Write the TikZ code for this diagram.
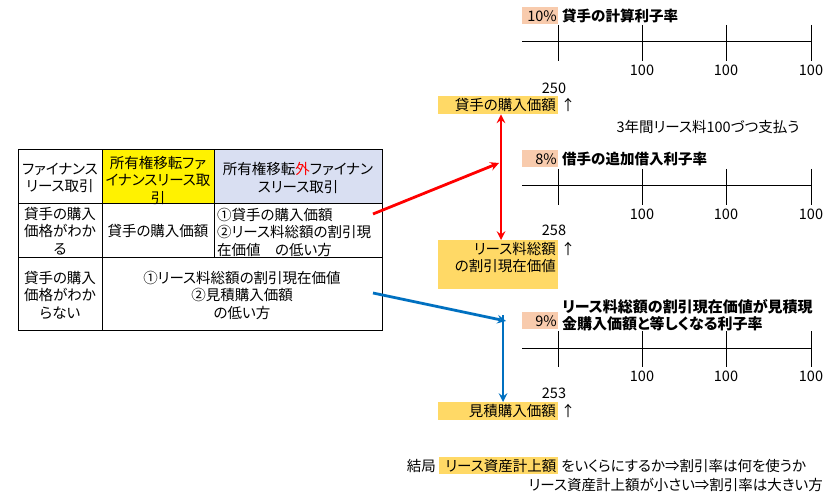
\documentclass[tikz,border=0pt]{standalone}
\usepackage{fontspec}
\setmainfont[RawFeature=+palt]{Noto Sans CJK JP}
\usetikzlibrary{positioning}
\definecolor{gold}{HTML}{FFD966}
\definecolor{peach}{HTML}{F8CBAD}
\definecolor{lavender}{HTML}{D9DFF2}
\definecolor{linkblue}{HTML}{0070C0}
\tikzset{
  cell/.style={align=center, inner sep=0pt},
  grid/.style={line width=1pt},
  timeline/.style={line width=1pt},
  ratebox/.style={fill=peach, anchor=north east, text width=34pt, align=right,
    minimum height=17pt, inner sep=1pt},
  buybox/.style={fill=gold, anchor=north east, text width=116pt, align=right,
    minimum height=18pt, inner sep=2pt},
  title/.style={font=\fontsize{14.5}{17}\selectfont\bfseries, inner sep=0pt},
  redarrow/.style={red, line width=2.8pt, -stealth},
  bluearrow/.style={linkblue, line width=2.8pt, -stealth}
}
\begin{document}
\begin{tikzpicture}[x=1pt,y=-1pt,font=\fontsize{14.5}{17.5}\selectfont]
  \useasboundingbox (0,0) rectangle (834,502);
  % table
  \fill[yellow] (102,150) rectangle (214,204);
  \fill[lavender] (214,150) rectangle (382,204);
  \draw[grid] (18,150) rectangle (382,330);
  \draw[grid] (18,204) -- (382,204) (18,258) -- (382,258);
  \draw[grid] (102,150) -- (102,330) (214,150) -- (214,258);
  \node[cell] (head1) at (60,178) {ファイナンス\\リース取引};
  \node[cell] (head2) at (158,180) {所有権移転ファ\\イナンスリース取\\引};
  \node[cell] (head3) at (298,178) {所有権移転\textcolor{red}{外}ファイナン\\スリース取引};
  \node[cell] (known) at (60,231) {貸手の購入\\価格がわか\\る};
  \node[cell] (knownfin) at (158,231) {貸手の購入価額};
  \node[cell,align=left,anchor=west] (knownop) at (217,232) {①貸手の購入価額\\②リース料総額の割引現\\在価値　の低い方};
  \node[cell] (unknown) at (60,295) {貸手の購入\\価格がわか\\らない};
  \node[cell] (unknownall) at (242,295) {①リース料総額の割引現在価値\\②見積購入価額\\の低い方};
  % three time lines
  \foreach \ly in {42,186,348}{
    \draw[timeline] (522,\ly) -- (811,\ly);
    \foreach \tx in {558,642,726,811}
      \draw[timeline] (\tx,\ly-17) -- (\tx,\ly+19);
    \foreach \tx in {642,726,811}
      \node (pay\ly-\tx) at (\tx,\ly+28) {100};
  }
  % lender rate
  \node[ratebox] (rate1) at (558,7) {10\%};
  \node[title,anchor=west] (title1) at (562,16) {貸手の計算利子率};
  \node (amt1) at (554,88) {250};
  \node[buybox] (buy1) at (558,96) {貸手の購入価額};
  \node (up1) at (568,105) {↑};
  \node (note) at (708,127) {3年間リース料100づつ支払う};
  % lessee rate
  \node[ratebox] (rate2) at (558,150) {8\%};
  \node[title,anchor=west] (title2) at (562,159) {借手の追加借入利子率};
  \node (amt2) at (554,230) {258};
  \node[buybox,minimum height=49pt] (pv) at (558,240) {};
  \node[anchor=north east,align=right,inner sep=2pt] (pvtext) at (pv.north east) {リース料総額\\の割引現在価値};
  \node (up2) at (568,249) {↑};
  % estimated rate
  \node[ratebox] (rate3) at (558,312) {9\%};
  \node[title,anchor=west,align=left,font=\fontsize{15}{17}\selectfont\bfseries] (title3) at (562,315) {リース料総額の割引現在価値が見積現\\金購入価額と等しくなる利子率};
  \node (amt3) at (554,393) {253};
  \node[buybox] (est) at (558,402) {見積購入価額};
  \node (up3) at (568,411) {↑};
  % conclusion
  \node[anchor=east,inner sep=1pt] (finally) at (437,466) {結局};
  \node[buybox,minimum height=17pt,inner sep=1.5pt] (asset) at (558,457) {リース資産計上額};
  \node[anchor=west,inner sep=1pt] (question) at (560,466) {をいくらにするか⇒割引率は何を使うか};
  \node[anchor=east,inner sep=1pt] (answer) at (824,485) {リース資産計上額が小さい⇒割引率は大きい方};
  % arrows
  \coordinate (redfrom) at (373,214);
  \coordinate (redto) at (499,163);
  \coordinate (redv) at (501,0);
  \draw[redarrow] (redfrom) -- (redto);
  \draw[redarrow,stealth-stealth] (buy1.south -| redv) -- (pv.north -| redv);
  \coordinate (bluefrom) at (373,293);
  \coordinate (blueto) at (506,321);
  \coordinate (bluev) at (503,315);
  \draw[bluearrow] (bluefrom) -- (blueto);
  \draw[bluearrow] (bluev) -- (est.north -| bluev);
\end{tikzpicture}
\end{document}
